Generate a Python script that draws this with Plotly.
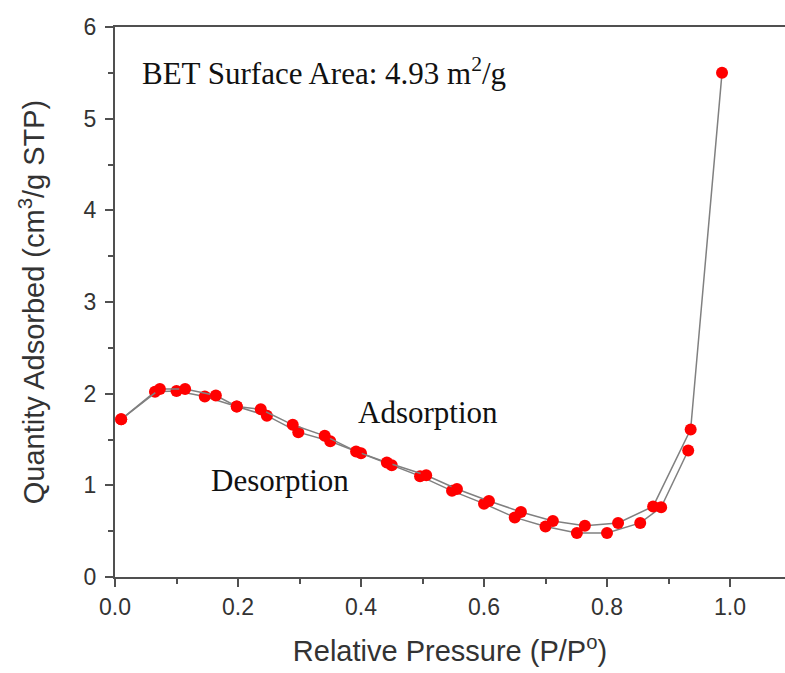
import plotly.graph_objects as go

# Adsorption (upper branch) data
ads_p = [0.010, 0.073, 0.114, 0.164, 0.198, 0.237, 0.289, 0.341, 0.392, 0.442,
         0.506, 0.556, 0.608, 0.660, 0.712, 0.764, 0.818, 0.875, 0.936, 0.987]
ads_q = [1.72, 2.05, 2.05, 1.98, 1.86, 1.83, 1.66, 1.54, 1.37, 1.25,
         1.11, 0.96, 0.83, 0.71, 0.61, 0.56, 0.59, 0.77, 1.61, 5.50]

# Desorption (lower branch) data
des_p = [0.010, 0.065, 0.100, 0.146, 0.198, 0.247, 0.298, 0.350, 0.400, 0.450,
         0.496, 0.548, 0.600, 0.650, 0.700, 0.751, 0.800, 0.854, 0.888, 0.932]
des_q = [1.72, 2.02, 2.03, 1.97, 1.86, 1.76, 1.58, 1.48, 1.35, 1.22,
         1.10, 0.94, 0.80, 0.65, 0.55, 0.48, 0.48, 0.59, 0.76, 1.38]

x_ticks = [0.0, 0.2, 0.4, 0.6, 0.8, 1.0]
x_tick_labels = ["0.0", "0.2", "0.4", "0.6", "0.8", "1.0"]
y_ticks = [0, 1, 2, 3, 4, 5, 6]

line_style = dict(color="#808080", width=1.5)
marker_style = dict(color="#ff0000", size=12, line=dict(width=0))

fig = go.Figure()
fig.add_trace(go.Scatter(x=des_p, y=des_q, mode="lines+markers", name="Desorption",
                         line=line_style, marker=marker_style))
fig.add_trace(go.Scatter(x=ads_p, y=ads_q, mode="lines+markers", name="Adsorption",
                         line=line_style, marker=marker_style))

axis_line = dict(showline=True, linecolor="#505050", linewidth=2, showgrid=False,
                 zeroline=False, ticks="outside", ticklen=8, tickwidth=2,
                 tickcolor="#505050")

sans = "Liberation Sans, Arial"
fig.update_xaxes(range=[0, 1.0894], tickvals=x_ticks, ticktext=x_tick_labels,
                 mirror=True,
                 minor=dict(ticks="outside", ticklen=5, tickwidth=2, tickcolor="#505050",
                            dtick=0.1, tick0=0),
                 tickfont=dict(family=sans, size=23, color="#333"),
                 title=dict(text="Relative Pressure (P/P<sup>o</sup>)", standoff=22,
                            font=dict(family=sans, size=29, color="#333")),
                 **axis_line)
fig.update_yaxes(range=[0, 6], tickvals=y_ticks,
                 minor=dict(ticks="outside", ticklen=5, tickwidth=2, tickcolor="#505050",
                            dtick=0.5, tick0=0),
                 ticklabelstandoff=4,
                 tickfont=dict(family=sans, size=23, color="#333"),
                 title=dict(text="Quantity Adsorbed (cm<sup>3</sup>/g STP)", standoff=30,
                            font=dict(family=sans, size=29, color="#333")),
                 **axis_line)

serif = dict(family="Liberation Serif, Times New Roman", size=31, color="#111")
fig.add_annotation(x=0.041, y=5.51, text="BET Surface Area: 4.93 m<sup>2</sup>/g",
                   showarrow=False, xanchor="left", yanchor="middle", font=serif)
fig.add_annotation(x=0.509, y=1.79, text="Adsorption", showarrow=False, font=serif)
fig.add_annotation(x=0.268, y=1.05, text="Desorption", showarrow=False, font=serif)

fig.update_layout(width=785, height=673, showlegend=False,
                  paper_bgcolor="white", plot_bgcolor="white",
                  margin=dict(l=115, r=0, t=27, b=96))

fig.write_html("out.html")
